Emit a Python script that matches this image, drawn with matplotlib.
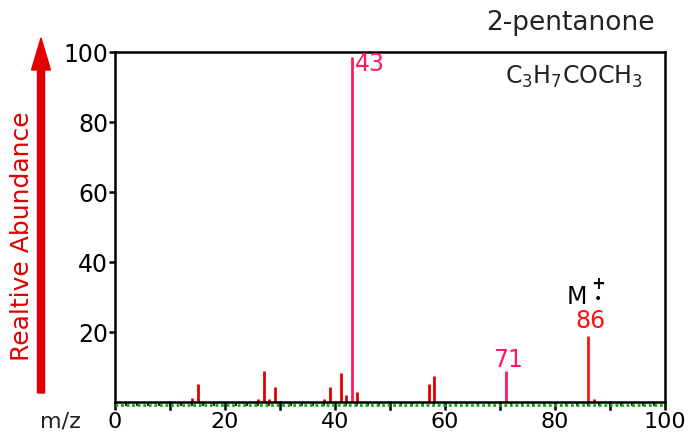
import matplotlib
matplotlib.use("Agg")
import matplotlib.pyplot as plt
from matplotlib.ticker import MultipleLocator

# mass spectrum of 2-pentanone
mz = [14, 15, 26, 27, 28, 29, 38, 39, 41, 42, 43, 44, 57, 58, 71, 86, 87]
abundance = [1.1, 5.1, 1.0, 8.9, 1.0, 4.2, 1.0, 4.2, 8.2, 2.0, 98.6, 2.8, 5.1, 7.5, 8.9, 18.9, 1.0]
labelled = {43: "43", 71: "71", 86: "86"}
x_ticks = [0, 20, 40, 60, 80, 100]
y_ticks = [20, 40, 60, 80, 100]

pink = "#ff1a5e"
red = "#ff1010"
dark_red = "#e00000"

fig = plt.figure(figsize=(6.93, 4.36), dpi=100)
ax = fig.add_axes([115 / 693, 1 - 402 / 436, 550 / 693, 350 / 436])

colors = []
for m in mz:
    if m in (43, 71):
        colors.append(pink)
    elif m == 86:
        colors.append(red)
    else:
        colors.append(dark_red)
ax.vlines(mz, 0, abundance, colors=colors, linewidth=2)

ax.set_xlim(0, 100)
ax.set_ylim(0, 100)
for s in ax.spines.values():
    s.set_linewidth(1.8)

ax.set_xticks(x_ticks)
ax.xaxis.set_minor_locator(MultipleLocator(2))
ax.set_yticks(y_ticks)
ax.tick_params(axis="x", which="major", length=6, width=1.8, labelsize=16, pad=1)
ax.tick_params(axis="x", which="minor", length=3, width=1.2)
ax.tick_params(axis="y", which="major", length=4, width=1.8, labelsize=17, pad=1)
# extra 10s ticks, unlabelled
for xv in (10, 30, 50, 70, 90):
    ax.plot([xv, xv], [0, -2.0], color="black", lw=1.8, clip_on=False)

# green dotted baseline just under the axis
ax.plot([0, 100], [-0.9, -0.9], color="#11aa11", lw=2, ls=(0, (1, 1)), clip_on=False)

# peak labels
ax.text(43.7, 96.5, labelled[43], color=pink, fontsize=17, ha="left", va="center")
ax.text(71.4, 10, labelled[71], color=pink, fontsize=17, ha="center", va="baseline")
ax.text(86.4, 21.2, labelled[86], color=red, fontsize=17, ha="center", va="baseline")
ax.text(82.2, 27.9, "M", color="black", fontsize=17, ha="left", va="baseline")
ax.text(87.9, 33.6, "+", color="black", fontsize=12, ha="center", va="center", fontweight="bold")
ax.text(87.9, 29.4, "\u2022", color="black", fontsize=10, ha="center", va="center")

ax.text(0.96, 0.93, r"C$_3$H$_7$COCH$_3$", transform=ax.transAxes, fontsize=17,
        ha="right", va="center", color="#222222")

fig.text(655 / 693, 1 - 30 / 436, "2-pentanone", fontsize=19, ha="right", va="baseline",
         color="#222222")
fig.text(40 / 693, 1 - 421 / 436, "m/z", fontsize=16, ha="left", va="center", color="#222222")
fig.text(22 / 693, 1 - 236 / 436, "Realtive Abundance", fontsize=18, rotation=90,
         ha="center", va="center", color=dark_red)

# red arrow up the left side
fig.patches.append(matplotlib.patches.FancyArrow(
    41 / 693, 1 - 393 / 436, 0, (393 - 38) / 436, width=7 / 693, head_width=19 / 693,
    head_length=32 / 436, length_includes_head=True, color=dark_red, transform=fig.transFigure,
    figure=fig))

fig.savefig("out.png", dpi=100)
